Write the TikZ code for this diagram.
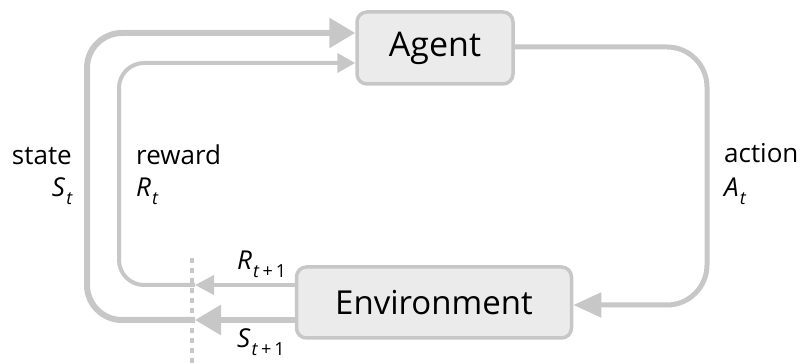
\documentclass[tikz,border=0pt]{standalone}
\usepackage{fontspec}
\setmainfont{Open Sans}
\usetikzlibrary{arrows.meta}
\definecolor{lg}{RGB}{198,199,198}
\definecolor{bf}{RGB}{235,235,235}
\newcommand{\vsub}[2]{\textit{#1}\kern1pt\raisebox{-8pt}{\fontsize{18}{18}\selectfont #2}}
\begin{document}
\begin{tikzpicture}[x=1pt,y=-1pt,
  box/.style={draw=lg,fill=bf,line width=3.5pt,rounded corners=10pt,inner sep=0pt,font=\fontsize{34}{40}\selectfont},
  lbl/.style={inner sep=0pt,font=\fontsize{26}{30}\selectfont},
  stline/.style={draw=lg,line width=6pt},
  rwline/.style={draw=lg,line width=4pt},
  acline/.style={draw=lg,line width=5pt}]
\useasboundingbox (0,0) rectangle (801,363);
\node[box,minimum width=156pt,minimum height=72pt] (agent) at (435,48) {Agent};
\node[box,minimum width=275pt,minimum height=71pt,font=\fontsize{33}{40}\selectfont] (env) at (434,302.5) {Environment};
\coordinate (sTip) at (195,320);
\coordinate (rTip) at (195,285);
\coordinate (dTop) at (192,258);
\coordinate (dBot) at (192,363);
% state
\draw[stline,-{Triangle[length=26pt,width=29pt]}] (env.west |- sTip) -- (sTip);
\draw[stline,rounded corners=35pt,-{Triangle[length=26pt,width=29pt]}] (sTip) -- (87,320) -- (87,33) -- (agent.west |- 0,33);
% reward
\draw[rwline,-{Triangle[length=19pt,width=19pt]}] (env.west |- rTip) -- (rTip);
\draw[rwline,rounded corners=25pt,-{Triangle[length=18pt,width=19pt]}] (rTip) -- (119,285) -- (119,63) -- (agent.west |- 0,63);
% action
\draw[acline,rounded corners=40pt,-{Triangle[length=28pt,width=24pt]}] (agent.east |- 0,47) -- (707,47) -- (707,305) -- (env.east |- 0,305);
% dotted separator
\draw[lg,line width=4pt,dash pattern=on 5pt off 5pt] (dTop) -- (dBot);
% labels
\node[lbl,anchor=base east] (lstate) at (72,165) {state};
\node[lbl,anchor=base east] (lSt) at (73,197) {\vsub{S}{\textit{t}}};
\node[lbl,anchor=base west] (lreward) at (136,165) {reward};
\node[lbl,anchor=base west] (lRt) at (136,197) {\vsub{R}{\textit{t}}};
\node[lbl,anchor=base west] (laction) at (724,163) {action};
\node[lbl,anchor=base west] (lAt) at (724,197) {\vsub{A}{\textit{t}}};
\node[lbl,anchor=base west] (lRt1) at (237,270) {\vsub{R}{\textit{t}\,+\,1}};
\node[lbl,anchor=base west] (lSt1) at (237,348) {\vsub{S}{\textit{t}\,+\,1}};
\end{tikzpicture}
\end{document}
